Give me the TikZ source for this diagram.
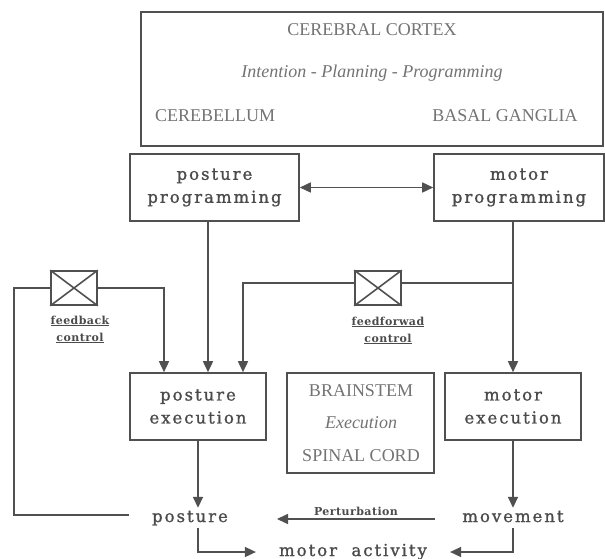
\documentclass[tikz,border=0pt]{standalone}
\usepackage{fontspec}
\setmainfont{Liberation Serif}
\newfontfamily\lblfont[LetterSpace=12,FakeBold=1.2]{DejaVu Serif}
\newfontfamily\ctlfont[LetterSpace=4]{DejaVu Serif}
\usetikzlibrary{arrows.meta}

\definecolor{linegray}{RGB}{80,80,80}
\definecolor{txtgray}{RGB}{115,115,115}
\definecolor{lblgray}{RGB}{75,75,75}

\tikzset{
  >={Triangle[length=11pt,width=10pt]},
  conn/.style={draw=linegray,line width=1.6pt},
  blk/.style={draw=linegray,line width=1.6pt,inner sep=0pt,align=center,
    text=lblgray,font=\lblfont\fontsize{16.5}{23}\selectfont},
  region/.style={text=txtgray,inner sep=0pt,font=\fontsize{18}{20}\selectfont},
  xbox/.style={draw=linegray,line width=1.6pt,inner sep=0pt,
    minimum width=46pt,minimum height=34pt},
  ctl/.style={text=lblgray,inner sep=0pt,align=center,
    font=\ctlfont\bfseries\fontsize{11}{17}\selectfont},
  outp/.style={text=lblgray,inner ysep=6pt,text height=8pt,text depth=0pt,
    font=\lblfont\fontsize{16.5}{18}\selectfont}
}

\begin{document}
\begin{tikzpicture}[x=1pt,y=-1pt]
  \useasboundingbox (0,0) rectangle (605,559);

  % cortex
  \node[draw=linegray,line width=1.6pt,minimum width=462pt,minimum height=134pt,inner sep=0pt] (cortex) at (372,79) {};
  \node[region] (cc) at (372,30) {CEREBRAL CORTEX};
  \node[region] (ipp) at (372,73) {\itshape Intention - Planning - Programming};
  \node[region] (cb) at (215,116) {CEREBELLUM};
  \node[region] (bg) at (505,116) {BASAL GANGLIA};

  % programming / execution
  \node[blk,minimum width=169pt,minimum height=67pt] (pp) at (214.5,187.5) {posture\\programming};
  \node[blk,minimum width=170pt,minimum height=67pt] (mp) at (519,187.5) {motor\\programming};
  \node[blk,minimum width=136pt,minimum height=67pt] (pe) at (198,406.5) {posture\\execution};
  \node[blk,minimum width=136pt,minimum height=67pt] (me) at (513,406.5) {motor\\execution};

  \node[draw=linegray,line width=1.6pt,minimum width=147pt,minimum height=100pt,inner sep=0pt] (bs) at (360.5,423) {};
  \node[region] (bst) at (361,391) {BRAINSTEM};
  \node[region] (exe) at (361,423) {\itshape Execution};
  \node[region] (sc) at (361,456) {SPINAL CORD};

  % control boxes
  \node[xbox] (fb) at (74,288) {};
  \draw[conn] (fb.north west) -- (fb.south east) (fb.north east) -- (fb.south west);
  \node[ctl] (fbl) at (80,329.5) {\underline{feedback}\\\underline{control}};
  \node[xbox] (ff) at (378,288) {};
  \draw[conn] (ff.north west) -- (ff.south east) (ff.north east) -- (ff.south west);
  \node[ctl] (ffl) at (388,330.5) {\underline{feedforwad}\\\underline{control}};

  % outputs
  \node[outp,inner xsep=23pt] (posture) at (190,518) {posture};
  \node[outp,inner xsep=27pt] (movement) at (513,518) {movement};
  \node[outp,inner xsep=23pt] (act) at (353,552) {motor\ \ activity};

  \coordinate (ffj) at (513,283);
  \coordinate (pst) at (435,519);
  \coordinate (pen) at (277,519);

  \draw[conn,<->] (pp) -- (mp);
  \draw[conn,->] ([xshift=-6.5pt]pp.south) -- ([xshift=10pt]pe.north);
  \draw[conn,->] ([xshift=-6pt]mp.south) -- (me.north);
  \draw[conn] (ffj) -- ([yshift=5pt]ff.east);
  \draw[conn,->] ([yshift=5pt]ff.west) -| ([xshift=45pt]pe.north);
  \draw[conn,->] (fb.east) -| ([xshift=-34pt]pe.north);
  \draw[conn] (fb.west) -- ++(-36,0) |- ([yshift=3pt]posture.west);
  \draw[conn,->] (pe.south) -- (pe.south |- posture.north);
  \draw[conn,->] (me.south) -- (movement.north);
  \draw[conn,->] (pst) -- node[ctl,above=3pt] (pert) {Perturbation} (pen);
  \draw[conn,->] (pe.south |- posture.south) |- (act.west);
  \draw[conn,->] (movement.south) |- (act.east);
\end{tikzpicture}
\end{document}
